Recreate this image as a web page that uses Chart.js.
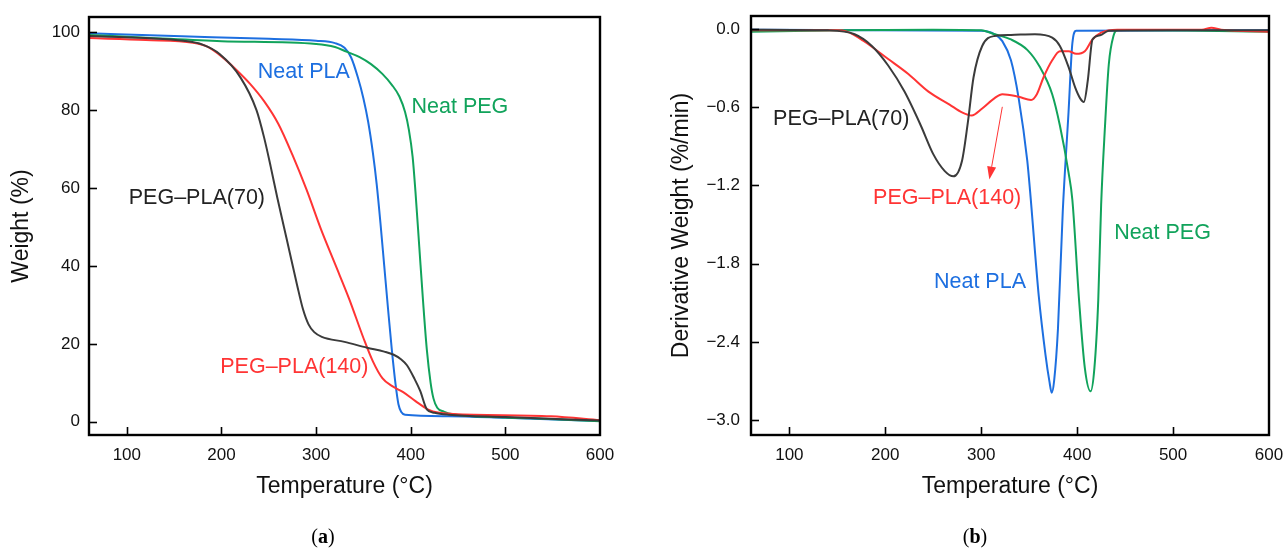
<!DOCTYPE html>
<html><head><meta charset="utf-8">
<script src="https://cdn.jsdelivr.net/npm/chart.js@4.4.1/dist/chart.umd.min.js"></script>
<style>
html,body{margin:0;padding:0;background:#fff;width:1284px;height:550px;overflow:hidden}
#wa{position:absolute;left:0;top:0;width:640px;height:550px}
#wb{position:absolute;left:640px;top:0;width:644px;height:550px}
.cap{position:absolute;top:524px;font:20px "Liberation Serif","DejaVu Serif",serif;color:#000;transform:translateX(-50%);line-height:24px}
</style></head><body>
<div id="wa"><canvas id="ca" width="640" height="550"></canvas></div>
<div id="wb"><canvas id="cb" width="644" height="550"></canvas></div>
<div class="cap" style="left:323px">(<b>a</b>)</div>
<div class="cap" style="left:975px">(<b>b</b>)</div>
<script>
// ---------- (a) TGA: weight (%) vs temperature (°C) ----------
const tgaT_PLA = [60,150,250,300,320,330,337,344,350,355,360,364,368,372,376,380,384,387,390,394,440,500,600];
const tgaW_PLA = [99.7,99.0,98.3,97.8,97.2,96.0,93.5,88.5,83,77,69,61,51,40,29,18.5,9.5,4.5,2.5,1.8,1.4,1.0,0.2];

const tgaT_PEG = [60,120,200,300,320,332,346,358,370,380,388,394,398,402,405,409,413,417,421,424,428,435,445,527,600];
const tgaW_PEG = [99.3,98.6,97.7,97.0,96.2,95.0,93.6,91.8,89.3,86.5,83.5,79.5,75,68,59,45,31,18.5,10,6,3.6,2.6,1.9,0.9,0.1];

const tgaT_70 = [60,120,160,180,198,220,237,245,252,259,266,273,280,286,292,298,306,330,354,372,382,390,396,404,410,417,425,440,500,600];
const tgaW_70 = [99.0,98.5,97.8,96.8,94.4,88.4,80,73,65.5,57.5,50,42.5,35,29,25,23,21.8,20.5,19,18,17.2,16,14.5,11,7.9,3.2,2.3,1.8,1.2,0.3];

const tgaT_140 = [60,120,170,185,200,215,230,245,260,275,290,305,320,335,350,360,370,380,392,405,418,430,445,548,600];
const tgaW_140 = [98.5,98.0,97.3,96.3,93.8,90.5,86.8,82.3,76.5,68.5,59.5,49.5,40.5,31.5,21.5,15.5,11.2,9.2,7.6,5.3,3.2,2.3,2.0,1.4,0.4];

// ---------- (b) DTG: derivative weight (%/min) vs temperature (°C) ----------
const dtgT_PLA = [60,300,314,322,331,339,348,351,360,367,371,373.5,376,380,385,391,395,399,600];
const dtgD_PLA = [-0.005,-0.013,-0.04,-0.093,-0.24,-0.53,-1.01,-1.25,-2.05,-2.5,-2.7,-2.79,-2.7,-2.3,-1.4,-0.64,-0.11,-0.013,-0.01];

const dtgT_PEG = [60,150,250,300,314,331,348,361,374,382,391,395,402,408,414,418,422,425,429,433,438,442,600];
const dtgD_PEG = [-0.02,-0.01,-0.005,-0.01,-0.04,-0.08,-0.16,-0.29,-0.5,-0.74,-1.1,-1.31,-2.08,-2.6,-2.78,-2.6,-2.08,-1.35,-0.75,-0.27,-0.05,-0.008,-0.02];

const dtgT_70 = [60,140,168,186,203,220,237,250,262,271,280,286,292,301,314,331,356,374,382,391,398,403,407,411,416,424,433,500,600];
const dtgD_70 = [-0.005,-0.01,-0.04,-0.13,-0.28,-0.48,-0.74,-0.96,-1.09,-1.13,-1.01,-0.72,-0.37,-0.13,-0.053,-0.045,-0.04,-0.066,-0.13,-0.29,-0.45,-0.53,-0.56,-0.4,-0.08,-0.048,-0.013,-0.01,-0.01];

const dtgT_140 = [60,150,160,177,203,224,245,267,280,290,301,314,322,339,352,358,365,374,382,391,399,408,416,425,442,530,540,550,600];
const dtgD_140 = [-0.01,-0.01,-0.02,-0.09,-0.23,-0.345,-0.48,-0.58,-0.64,-0.664,-0.61,-0.53,-0.5,-0.52,-0.544,-0.5,-0.37,-0.24,-0.17,-0.17,-0.19,-0.17,-0.08,-0.027,-0.005,-0.005,0.01,-0.005,-0.02];

// tick labels
const xTickValues = [100,200,300,400,500,600];
const yTickValuesA = [0,20,40,60,80,100];
const yTickValuesB = [0,-0.6,-1.2,-1.8,-2.4,-3.0];

const FONT = '"Liberation Sans", Arial, Helvetica, sans-serif';
const C = {pla:'#1d6fe0', peg:'#11a35b', c70:'#3b3b3b', c140:'#ff3434'};

function pts(xs, ys){ return xs.map((x,i)=>({x:x, y:ys[i]})); }
function ds(label, xs, ys, color){
  return {label, data: pts(xs, ys), borderColor: color, borderWidth: 2, pointRadius: 0,
          fill: false, cubicInterpolationMode: 'monotone'};
}
function keepTicks(vals){
  return s => { s.ticks = vals.map(v => ({value: v})); };
}

const decor = {
  id: 'decor',
  afterDatasetsDraw(chart, args, opts){
    const {ctx, chartArea: a, scales: {x, y}} = chart;
    ctx.save();
    ctx.strokeStyle = '#000';
    ctx.lineWidth = 1.6;
    x.ticks.forEach(t => {
      const px = Math.round(x.getPixelForValue(t.value)) + 0.5;
      if (px > a.right - 2) return;
      ctx.beginPath(); ctx.moveTo(px, a.bottom); ctx.lineTo(px, a.bottom - 8); ctx.stroke();
    });
    y.ticks.forEach(t => {
      const py = Math.round(y.getPixelForValue(t.value)) + 0.5;
      ctx.beginPath(); ctx.moveTo(a.left, py); ctx.lineTo(a.left + 8, py); ctx.stroke();
    });
    ctx.lineWidth = 2.4;
    ctx.strokeRect(a.left, a.top, a.width, a.height);
    ctx.font = '21.5px ' + FONT;
    ctx.textAlign = 'center'; ctx.textBaseline = 'middle';
    (opts.labels || []).forEach(l => {
      ctx.fillStyle = l.color;
      ctx.fillText(l.text, x.getPixelForValue(l.x), y.getPixelForValue(l.y));
    });
    (opts.arrows || []).forEach(r => {
      const x0 = x.getPixelForValue(r.x0), y0 = y.getPixelForValue(r.y0);
      const x1 = x.getPixelForValue(r.x1), y1 = y.getPixelForValue(r.y1);
      const ang = Math.atan2(y1 - y0, x1 - x0);
      const hl = 13, hw = 4.5;
      const bx = x1 - hl * Math.cos(ang), by = y1 - hl * Math.sin(ang);
      ctx.strokeStyle = r.color; ctx.fillStyle = r.color; ctx.lineWidth = 1;
      ctx.beginPath(); ctx.moveTo(x0, y0); ctx.lineTo(bx, by); ctx.stroke();
      ctx.beginPath();
      ctx.moveTo(x1, y1);
      ctx.lineTo(bx + hw * Math.sin(ang), by - hw * Math.cos(ang));
      ctx.lineTo(bx - hw * Math.sin(ang), by + hw * Math.cos(ang));
      ctx.closePath(); ctx.fill();
    });
    ctx.restore();
  }
};

function xScale(){
  return {
    type: 'linear', min: 60, max: 600,
    afterBuildTicks: keepTicks(xTickValues),
    ticks: {padding: 10, font: {size: 17, family: FONT}, color: '#111', maxRotation: 0, autoSkip: false},
    grid: {display: false, drawTicks: false}, border: {display: false},
    title: {display: true, text: 'Temperature (°C)', font: {size: 23, family: FONT}, color: '#111', padding: {top: 0, bottom: 0}},
    afterFit: s => { s.height = 65; s.paddingLeft = 0; s.paddingRight = 0; }
  };
}
function yScale(min, max, vals, pad, title, titlePad, width, cb){
  const o = {
    type: 'linear', min: min, max: max,
    afterBuildTicks: keepTicks(vals),
    ticks: {padding: pad, font: {size: 17, family: FONT}, color: '#111'},
    grid: {display: false, drawTicks: false}, border: {display: false},
    title: {display: true, text: title, font: {size: 23, family: FONT}, color: '#111', padding: {top: titlePad, bottom: 0}},
    afterFit: s => { s.width = width; s.paddingTop = 0; s.paddingBottom = 0; }
  };
  if (cb) o.ticks.callback = cb;
  return o;
}

new Chart(document.getElementById('ca'), {
  type: 'line',
  data: {datasets: [
    ds('PEG–PLA(70)', tgaT_70, tgaW_70, C.c70),
    ds('PEG–PLA(140)', tgaT_140, tgaW_140, C.c140),
    ds('Neat PEG', tgaT_PEG, tgaW_PEG, C.peg),
    ds('Neat PLA', tgaT_PLA, tgaW_PLA, C.pla)
  ]},
  options: {
    responsive: false, animation: false, events: [],
    layout: {padding: {top: 17, right: 40, left: 0, bottom: 50}},
    scales: {
      x: xScale(),
      y: yScale(-3.4, 103.9, yTickValuesA, 9, 'Weight (%)', 8, 89)
    },
    plugins: {
      legend: {display: false}, tooltip: {enabled: false},
      decor: {labels: [
        {text: 'Neat PLA', x: 287, y: 89.8, color: C.pla},
        {text: 'Neat PEG', x: 452, y: 80.8, color: C.peg},
        {text: 'PEG–PLA(70)', x: 174, y: 57.3, color: '#222'},
        {text: 'PEG–PLA(140)', x: 277, y: 14, color: C.c140}
      ]}
    }
  },
  plugins: [decor]
});

new Chart(document.getElementById('cb'), {
  type: 'line',
  data: {datasets: [
    ds('PEG–PLA(70)', dtgT_70, dtgD_70, C.c70),
    ds('PEG–PLA(140)', dtgT_140, dtgD_140, C.c140),
    ds('Neat PEG', dtgT_PEG, dtgD_PEG, C.peg),
    ds('Neat PLA', dtgT_PLA, dtgD_PLA, C.pla)
  ]},
  options: {
    responsive: false, animation: false, events: [],
    layout: {padding: {top: 16, right: 15, left: 0, bottom: 50}},
    scales: {
      x: xScale(),
      y: yScale(-3.115, 0.1, yTickValuesB, 11, 'Derivative Weight (%/min)', 28, 111,
                v => Math.abs(v) < 1e-9 ? '0.0' : v.toFixed(1).replace('-', '\u2212'))
    },
    plugins: {
      legend: {display: false}, tooltip: {enabled: false},
      decor: {
        labels: [
          {text: 'PEG–PLA(70)', x: 154, y: -0.69, color: '#222'},
          {text: 'PEG–PLA(140)', x: 264.5, y: -1.30, color: C.c140},
          {text: 'Neat PLA', x: 298.7, y: -1.94, color: C.pla},
          {text: 'Neat PEG', x: 489, y: -1.566, color: C.peg}
        ],
        arrows: [{x0: 322, y0: -0.597, x1: 308.5, y1: -1.155, color: C.c140}]
      }
    }
  },
  plugins: [decor]
});
</script>
</body></html>
